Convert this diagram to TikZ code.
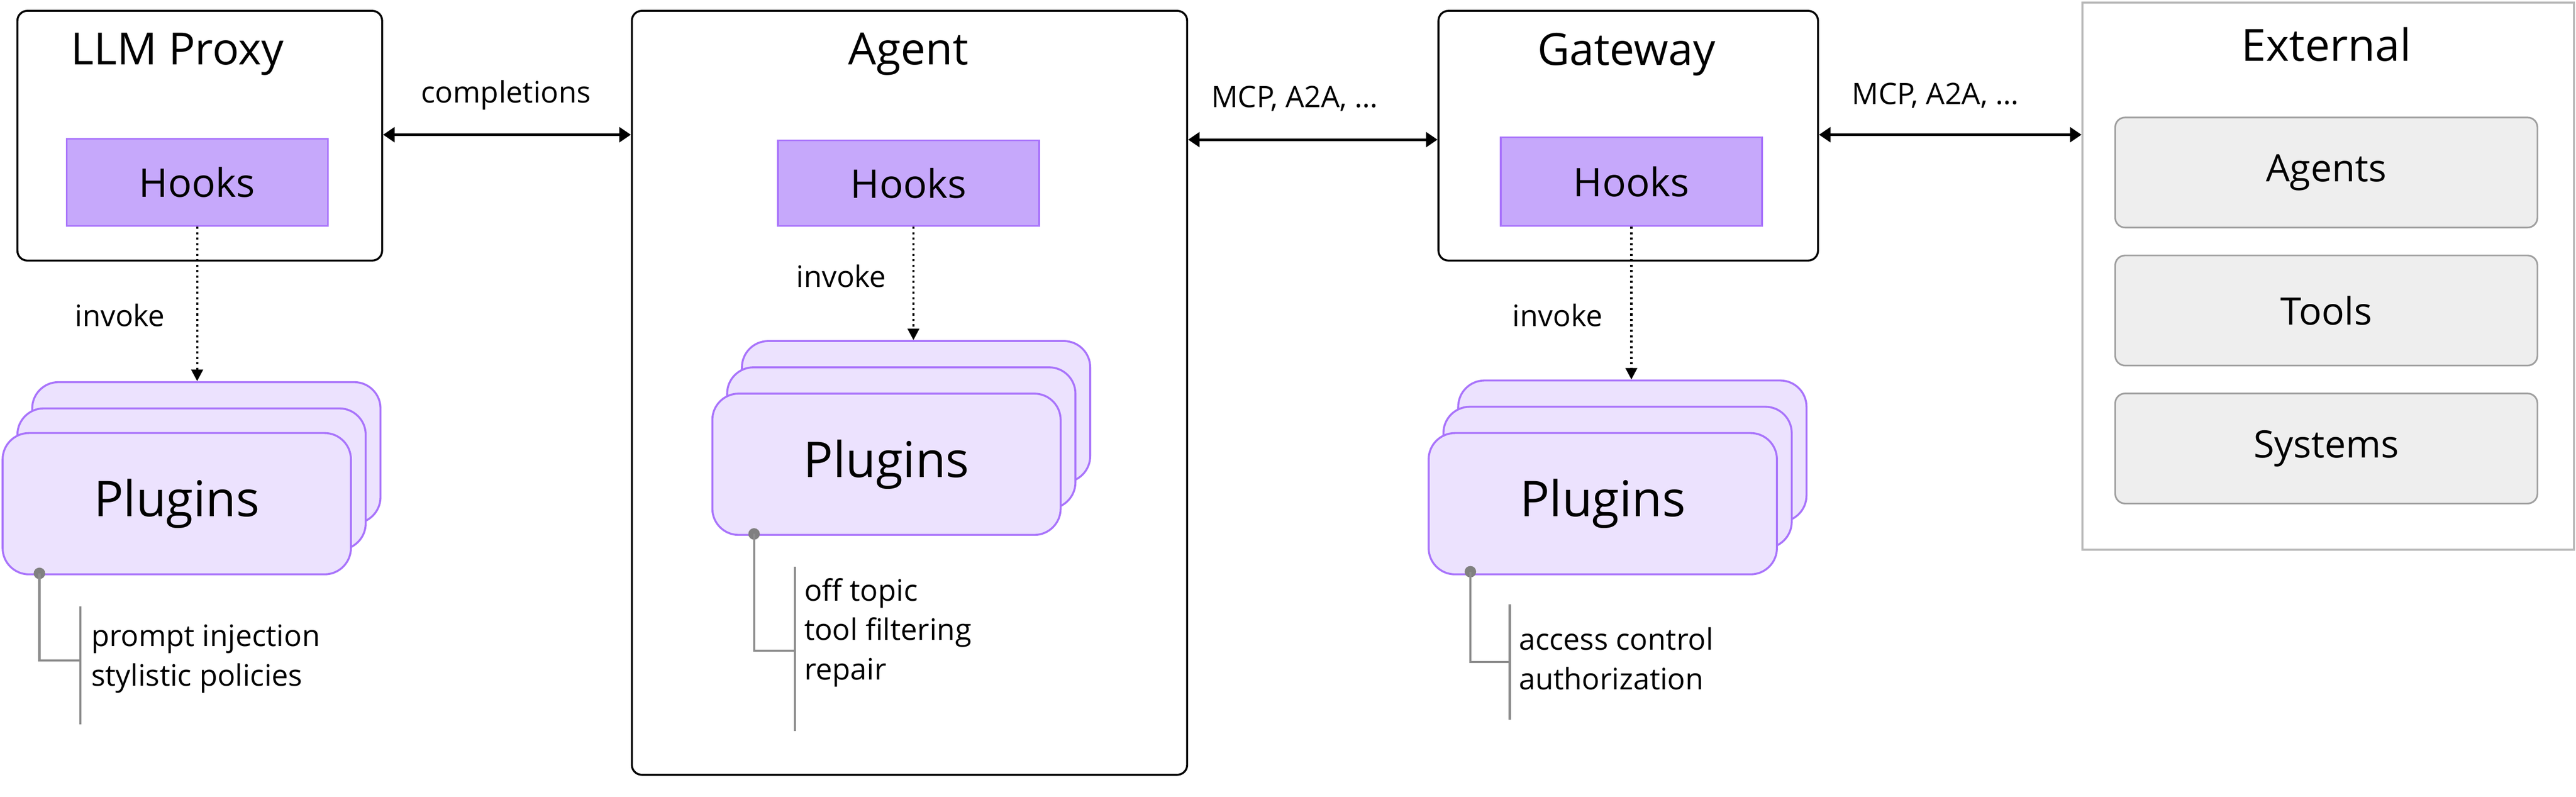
\documentclass[tikz,border=0pt]{standalone}
\usepackage{fontspec}
\setmainfont{Open Sans}
\usetikzlibrary{arrows.meta}
\begin{document}
\begin{tikzpicture}[x=1pt,y=-1pt,
  box/.style={draw=black,line width=1.2pt,rounded corners=6pt,anchor=north west,inner sep=0},
  hook/.style={draw=purple!0!black,anchor=north west,inner sep=0,fill=hookf,draw=plborder,line width=1pt,font=\fontsize{24}{28}\selectfont},
  plug/.style={anchor=north west,inner sep=0,fill=plfill,draw=plborder,line width=1.2pt,rounded corners=16pt,minimum width=212pt,minimum height=86pt,font=\fontsize{30}{34}\selectfont},
  ext/.style={anchor=north west,inner sep=0,fill=extf,draw=gray!75,line width=1pt,rounded corners=6pt,minimum width=257pt,minimum height=67pt,font=\fontsize{23}{27}\selectfont},
  title/.style={font=\fontsize{27}{31}\selectfont},
  lab/.style={font=\fontsize{18}{22}\selectfont},
  biarrow/.style={{Triangle[length=7pt,width=9pt]}-{Triangle[length=7pt,width=9pt]},line width=1.6pt},
  dotarrow/.style={-{Triangle[length=7pt,width=7pt]},line width=1.3pt,dotted},
  ann/.style={draw=gray!90,line width=1.3pt},
  atext/.style={anchor=west,font=\fontsize{18}{24}\selectfont,align=left}
]
\definecolor{hookf}{HTML}{C6A8FB}
\definecolor{plborder}{HTML}{A974FB}
\definecolor{plfill}{HTML}{ECE2FE}
\definecolor{extf}{HTML}{EEEEEE}
\useasboundingbox[fill=white] (0,0) rectangle (1568,485);

% LLM Proxy
\node[box,minimum width=222pt,minimum height=152pt] (proxy) at (10,6) {};
\node[title] (proxyt) at (108,33) {LLM Proxy};
\node[hook,minimum width=159pt,minimum height=53pt] (h1) at (40,84) {Hooks};
\node[plug] (p1c) at (19,232) {};
\node[plug] (p1b) at (10,248) {};
\node[plug] (p1) at (1,263) {Plugins};

% Agent
\node[box,minimum width=338pt,minimum height=465pt] (agent) at (384,6) {};
\node[title] (agentt) at (553,33) {Agent};
\node[hook,minimum width=159pt,minimum height=52pt] (h2) at (473,85) {Hooks};
\node[plug] (p2c) at (451,207) {};
\node[plug] (p2b) at (442,223) {};
\node[plug] (p2) at (433,239) {Plugins};

% Gateway
\node[box,minimum width=231pt,minimum height=152pt] (gw) at (875,6) {};
\node[title] (gwt) at (990,33) {Gateway};
\node[hook,minimum width=159pt,minimum height=54pt] (h3) at (913,83) {Hooks};
\node[plug] (p3c) at (887,231) {};
\node[plug] (p3b) at (878,247) {};
\node[plug] (p3) at (869,263) {Plugins};

% External
\node[anchor=north west,inner sep=0,draw=gray!55,line width=1.2pt,minimum width=299pt,minimum height=333pt] (ext) at (1267,1) {};
\node[title] (extt) at (1416,27) {External};
\node[ext] (e1) at (1287,71) {Agents};
\node[ext] (e2) at (1287,155) {Tools};
\node[ext] (e3) at (1287,239) {Systems};

% connectors
\draw[biarrow] (proxy.east|-0,82) -- (agent.west|-0,82);
\node[lab] (l1) at (308,58) {completions};
\draw[biarrow] (agent.east|-0,85) -- (gw.west|-0,85);
\node[lab] (l2) at (788,60) {MCP, A2A, \dots};
\draw[biarrow] (gw.east|-0,82) -- (ext.west|-0,82);
\node[lab] (l3) at (1178,58) {MCP, A2A, \dots};

\draw[dotarrow] (h1.south-|120,0) -- (p1c.north-|120,0);
\draw[dotarrow] (h2.south-|556,0) -- (p2c.north-|556,0);
\draw[dotarrow] (h3.south-|993,0) -- (p3c.north-|993,0);
\node[lab] (i1) at (73,192) {invoke};
\node[lab] (i2) at (512,168) {invoke};
\node[lab] (i3) at (948,192) {invoke};

% annotations
\coordinate (d1) at (24,349);
\fill[gray] (d1) circle (3.5pt);
\draw[ann] (d1) -- (24,402) -- (49,402);
\draw[ann] (49,369) -- (49,441);
\node[atext] (t1) at (52,401) {prompt injection\\stylistic policies};

\coordinate (d2) at (459,325);
\fill[gray] (d2) circle (3.5pt);
\draw[ann] (d2) -- (459,396) -- (484,396);
\draw[ann] (484,345) -- (484,445);
\node[atext] (t2) at (486,385) {off topic\\tool filtering\\repair};

\coordinate (d3) at (895,348);
\fill[gray] (d3) circle (3.5pt);
\draw[ann] (d3) -- (895,403) -- (919,403);
\draw[ann] (919,368) -- (919,438);
\node[atext] (t3) at (921,401) {access control\\authorization};
\end{tikzpicture}
\end{document}
